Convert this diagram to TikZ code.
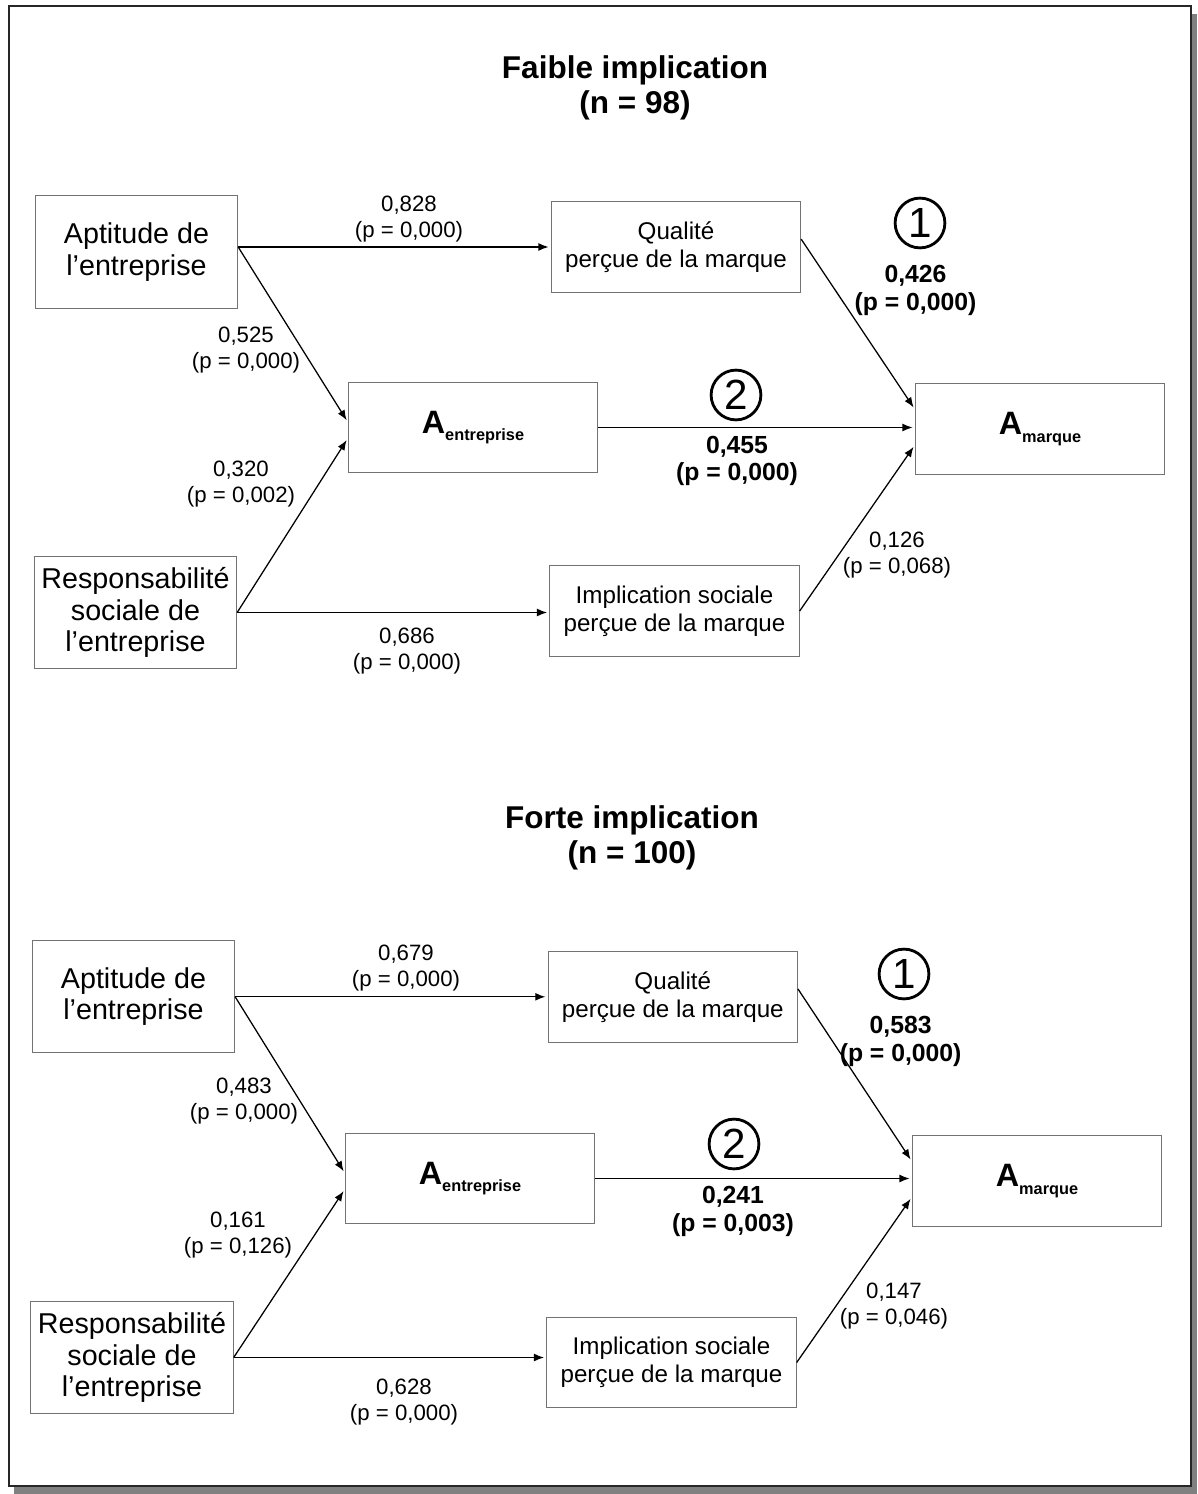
\documentclass[tikz,border=0pt]{standalone}
\usepackage{fontspec}
\setmainfont{Liberation Sans}
\usetikzlibrary{positioning,arrows.meta}

\newcommand{\attit}[1]{{\bfseries\fontsize{11.5}{12}\selectfont A}\raisebox{-2.7pt}{\bfseries\fontsize{5.8}{6}\selectfont #1}}

\begin{document}
\begin{tikzpicture}[x=0.0125cm, y=-0.0125cm,
  bigbox/.style={rectangle, draw=black!55, line width=0.4pt, minimum width=71.9pt, minimum height=40pt, inner sep=0pt, align=center, font=\fontsize{10.2}{11.3}\selectfont},
  midbox/.style={bigbox, minimum width=88.6pt, minimum height=32.2pt, font=\fontsize{8.6}{9.9}\selectfont},
  coef/.style={inner sep=0pt, align=center, font=\fontsize{7.9}{9.2}\selectfont},
  bcoef/.style={coef, font=\bfseries\fontsize{8.8}{9.9}\selectfont},
  titre/.style={inner sep=0pt, align=center, font=\bfseries\fontsize{11.2}{12.4}\selectfont},
  rond/.style={circle, draw, line width=1pt, minimum size=17.7pt, inner sep=0pt, font=\fontsize{15}{15}\selectfont},
  fleche/.style={-{Latex[length=3.6pt,width=2.8pt]}, line width=0.45pt, shorten >=0.8pt}]
    \useasboundingbox (0,0) rectangle (1197,1494);
    % cadre avec ombre
    \fill[black!50] (14,1487) rectangle (1197,1494);
    \fill[black!50] (1192,14) rectangle (1197,1494);
    \draw[line width=0.7pt, black!85] (9,6) rectangle (1191,1486);

    % faible implication
    \node[titre]  (titre1) at (635,88)       {Faible implication\\(n = 98)};
    \node[bigbox] (apt)    at (136.5,252)    {Aptitude de\\l’entreprise};
    \node[midbox] (qual)   at (676,247)      {Qualité\\perçue de la marque};
    \node[midbox] (aent)   at (473,427.5)    {\attit{entreprise}};
    \node[midbox] (amarq)  at (1040,429)     {\attit{marque}};
    \node[bigbox] (rse)    at (135.5,612.5)  {Responsabilité\\sociale de\\l’entreprise};
    \node[midbox] (impl)   at (674.5,611)    {Implication sociale\\perçue de la marque};

    \draw[fleche] (apt.east |- qual.west) -- (qual.west);
    \draw[fleche] (apt.east |- qual.west) -- ([yshift=1.9pt]aent.west);
    \draw[fleche] (rse.east) -- ([yshift=-3.8pt]aent.west);
    \draw[fleche] (rse.east) -- (rse.east -| impl.west);
    \draw[fleche] ([yshift=2.8pt]qual.east) -- ([yshift=7pt]amarq.west);
    \draw[fleche] (aent.east) -- (aent.east -| amarq.west);
    \draw[fleche] (impl.east) -- ([yshift=-5.7pt]amarq.west);

    \node[coef] (k828) at (409,219) {0,828\\(p = 0,000)};
    \node[coef] (k525) at (246,350) {0,525\\(p = 0,000)};
    \node[coef] (k320) at (241,484) {0,320\\(p = 0,002)};
    \node[coef] (k686) at (407,651) {0,686\\(p = 0,000)};
    \node[coef] (k126) at (897,555) {0,126\\(p = 0,068)};
    \node[rond] (un)   at (920,223) {1};
    \node[bcoef, below=5.6pt of un, xshift=-1.6pt] (k426) {0,426\\(p = 0,000)};
    \node[rond] (deux) at (736,395) {2};
    \node[bcoef] (k455) at (737,461) {0,455\\(p = 0,000)};

    % forte implication
    \node[titre]  (titre2) at (632,838)      {Forte implication\\(n = 100)};
    \node[bigbox] (aptB)   at (133.5,996.5)  {Aptitude de\\l’entreprise};
    \node[midbox] (qualB)  at (672.8,996.8)  {Qualité\\perçue de la marque};
    \node[midbox] (aentB)  at (470,1178.5)   {\attit{entreprise}};
    \node[midbox] (amarqB) at (1037,1181)    {\attit{marque}};
    \node[bigbox] (rseB)   at (132,1357.5)   {Responsabilité\\sociale de\\l’entreprise};
    \node[midbox] (implB)  at (671.5,1362.5) {Implication sociale\\perçue de la marque};

    \draw[fleche] (aptB.east |- qualB.west) -- (qualB.west);
    \draw[fleche] (aptB.east |- qualB.west) -- ([yshift=1.9pt]aentB.west);
    \draw[fleche] (rseB.east) -- ([yshift=-3.8pt]aentB.west);
    \draw[fleche] (rseB.east) -- (rseB.east -| implB.west);
    \draw[fleche] ([yshift=2.8pt]qualB.east) -- ([yshift=7pt]amarqB.west);
    \draw[fleche] (aentB.east) -- (aentB.east -| amarqB.west);
    \draw[fleche] (implB.east) -- ([yshift=-5.7pt]amarqB.west);

    \node[coef] (k679) at (406,968)  {0,679\\(p = 0,000)};
    \node[coef] (k483) at (244,1101) {0,483\\(p = 0,000)};
    \node[coef] (k161) at (238,1235) {0,161\\(p = 0,126)};
    \node[coef] (k628) at (404,1402) {0,628\\(p = 0,000)};
    \node[coef] (k147) at (894,1306) {0,147\\(p = 0,046)};
    \node[rond] (unB)   at (904,974)  {1};
    \node[bcoef, below=5.6pt of unB, xshift=-1.2pt] (k583) {0,583\\(p = 0,000)};
    \node[rond] (deuxB) at (734,1144) {2};
    \node[bcoef] (k241) at (733,1211) {0,241\\(p = 0,003)};
\end{tikzpicture}
\end{document}
